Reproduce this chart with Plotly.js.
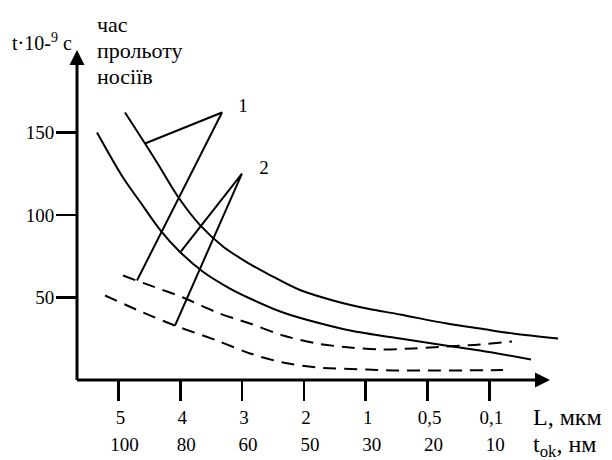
<!DOCTYPE html>
<html>
<head>
<meta charset="utf-8">
<script src="https://cdn.plot.ly/plotly-3.0.1.min.js"></script>
<style>html,body{margin:0;padding:0;background:#fff;}#chart{width:612px;height:460px;}</style>
</head>
<body>
<div id="chart"></div>
<script>
// tick positions and labels
const tickPos = [1, 2, 3, 4, 5, 6, 7];
const tickL = ["5", "4", "3", "2", "1", "0,5", "0,1"];      // L, мкм
const tickT = ["100", "80", "60", "50", "30", "20", "10"];  // t_ok, нм
const yTicks = [50, 100, 150];

// curve 1 (solid, upper)
const c1SolidX = [1.105, 1.429, 1.623, 1.963, 2.319, 2.691, 3.079, 3.451, 3.937, 4.471, 5.021, 5.555, 6.316, 6.850, 7.383, 8.112];
const c1SolidY = [162.1, 143.3, 131.8, 111.0, 93.8, 80.9, 71.3, 63.6, 54.5, 48.2, 43.3, 39.7, 34.2, 31.2, 28.2, 25.1];
// curve 2 (solid, lower)
const c2SolidX = [0.652, 1.073, 1.348, 1.672, 1.995, 2.367, 2.804, 3.128, 3.662, 4.212, 4.746, 5.555, 6.316, 6.850, 7.675];
const c2SolidY = [150.0, 122.7, 108.0, 91.0, 77.6, 65.6, 55.4, 49.4, 40.9, 34.8, 30.0, 25.1, 20.8, 17.9, 12.4];
// curve 1 (dashed, upper)
const c1DashX = [1.073, 1.510, 2.044, 2.594, 3.128, 3.662, 4.212, 4.746, 5.231, 5.765, 6.316, 6.850, 7.367];
const c1DashY = [63.3, 57.3, 50.0, 40.9, 34.2, 27.0, 22.1, 19.7, 18.5, 19.1, 20.3, 21.5, 23.3];
// curve 2 (dashed, lower)
const c2DashX = [0.782, 1.396, 1.914, 2.594, 3.128, 3.662, 4.212, 5.021, 5.442, 7.222];
const c2DashY = [51.2, 40.9, 33.0, 23.9, 16.1, 10.6, 7.6, 6.4, 5.8, 6.0];

// leader lines for labels "1" and "2"
const lead1X = [1.429, 2.675, 1.299];
const lead1Y = [143.3, 162.1, 60.3];
const lead2X = [2.011, 2.998, 1.914];
const lead2Y = [77.9, 125.1, 33.0];
const labelText = ["1", "2"];
const labelX = [3.015, 3.354];
const labelY = [165.1, 127.6];

const FONT = "Liberation Serif";
const xRange = [0.3285, 8.225];
const yRange = [0, 205.4];

const solid = {color: "#000", width: 2, shape: "spline", smoothing: 0.9};
const dashed = {color: "#000", width: 2, shape: "spline", smoothing: 0.9, dash: "13px,8px"};

const traces = [
  {x: c1SolidX, y: c1SolidY, mode: "lines", line: solid},
  {x: c2SolidX, y: c2SolidY, mode: "lines", line: solid},
  {x: c1DashX, y: c1DashY, mode: "lines", line: dashed},
  {x: c2DashX, y: c2DashY, mode: "lines", line: dashed},
  {x: lead1X, y: lead1Y, mode: "lines", line: {color: "#000", width: 2}},
  {x: lead2X, y: lead2Y, mode: "lines", line: {color: "#000", width: 2}},
  {x: labelX, y: labelY, mode: "text", text: labelText, textposition: "middle center",
   textfont: {family: FONT, size: 19, color: "#000"}, cliponaxis: false},
  {x: tickPos, y: tickPos.map(() => null), xaxis: "x2", mode: "markers", hoverinfo: "skip"}
];

const tickFont = {family: FONT, size: 19, color: "#000"};
const layout = {
  width: 612, height: 460,
  margin: {l: 77, r: 47, t: 41, b: 80},
  paper_bgcolor: "#fff", plot_bgcolor: "#fff",
  showlegend: false,
  font: {family: FONT, size: 19, color: "#000"},
  xaxis: {
    range: xRange, tickmode: "array", tickvals: tickPos, ticktext: tickL,
    ticks: "outside", ticklen: 20, tickwidth: 2.5, tickcolor: "#000",
    ticklabelshift: 2,
    showgrid: false, zeroline: false, showline: false, tickfont: tickFont
  },
  xaxis2: {
    range: xRange, overlaying: "x", side: "bottom", anchor: "y",
    tickmode: "array", tickvals: tickPos, ticktext: tickT,
    ticks: "outside", ticklen: 20, tickwidth: 1, tickcolor: "rgba(0,0,0,0)",
    ticklabelstandoff: 27, ticklabelshift: 6,
    showgrid: false, zeroline: false, showline: false, tickfont: tickFont
  },
  yaxis: {
    range: yRange, tickmode: "array", tickvals: yTicks,
    ticks: "outside", ticklen: 20, tickwidth: 2.5, tickcolor: "#000",
    ticklabelstandoff: -2,
    showgrid: false, zeroline: false, showline: false, tickfont: tickFont
  },
  annotations: [
    // x axis with arrow
    {x: 7.982, y: 0, xref: "x", yref: "y", ax: 0.304, ay: 0, axref: "x", ayref: "y",
     showarrow: true, arrowhead: 2, arrowsize: 1, arrowwidth: 3, arrowcolor: "#000", standoff: 0, text: ""},
    // y axis with arrow
    {x: xRange[0], y: 200, xref: "x", yref: "y", ax: xRange[0], ay: -0.9, axref: "x", ayref: "y",
     showarrow: true, arrowhead: 2, arrowsize: 1, arrowwidth: 3, arrowcolor: "#000", standoff: 0, text: ""},
    {x: -0.1373, y: 0.997, xref: "paper", yref: "paper", xanchor: "left", yanchor: "middle",
     text: "t·10-<sup>9</sup> c", showarrow: false, font: {family: FONT, size: 20, color: "#000"}},
    {x: 0.0369, y: 1.0499, xref: "paper", yref: "paper", xanchor: "left", yanchor: "middle",
     text: "час", showarrow: false, font: {family: FONT, size: 22, color: "#000"}},
    {x: 0.0369, y: 0.9732, xref: "paper", yref: "paper", xanchor: "left", yanchor: "middle",
     text: "прольоту", showarrow: false, font: {family: FONT, size: 22, color: "#000"}},
    {x: 0.0369, y: 0.8965, xref: "paper", yref: "paper", xanchor: "left", yanchor: "middle",
     text: "носіїв", showarrow: false, font: {family: FONT, size: 22, color: "#000"}},
    {x: 0.930, y: -0.1086, xref: "paper", yref: "paper", xanchor: "left", yanchor: "middle",
     text: "L, мкм", showarrow: false, font: {family: FONT, size: 24, color: "#000"}},
    {x: 0.930, y: -0.194, xref: "paper", yref: "paper", xanchor: "left", yanchor: "middle",
     text: "t<sub>ok</sub>, нм", showarrow: false, font: {family: FONT, size: 24, color: "#000"}}
  ]
};

Plotly.newPlot("chart", traces, layout, {staticPlot: true, displayModeBar: false});
</script>
</body>
</html>
